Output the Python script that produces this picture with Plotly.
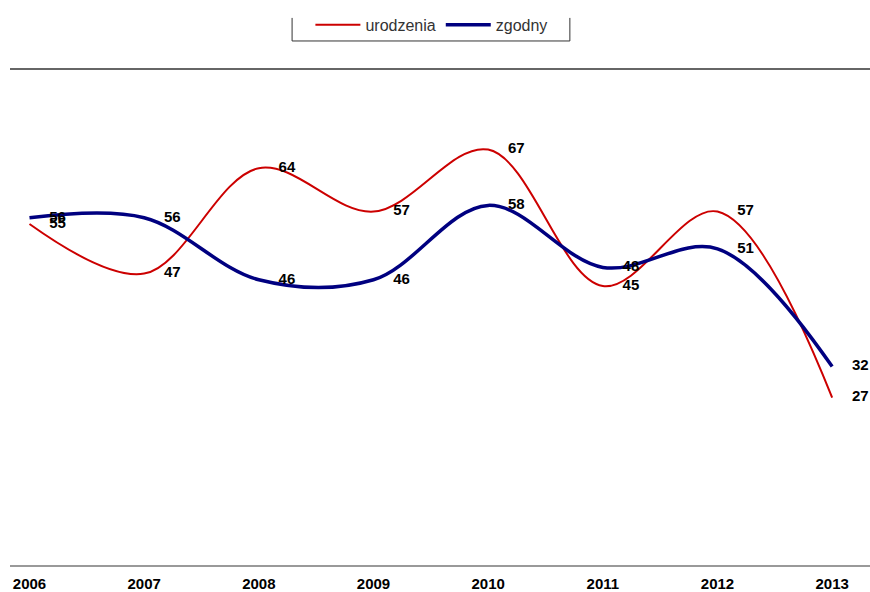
import plotly.graph_objects as go

years = ["2006", "2007", "2008", "2009", "2010", "2011", "2012", "2013"]
urodzenia = [55, 47, 64, 57, 67, 45, 57, 27]
zgodny = [56, 56, 46, 46, 58, 48, 51, 32]

RED = "#CC0000"
BLUE = "#000080"
FONT = "Liberation Sans, Arial, sans-serif"

fig = go.Figure()

fig.add_trace(go.Scatter(
    x=years, y=urodzenia, name="urodzenia", mode="lines",
    line=dict(color=RED, width=2, shape="spline", smoothing=1),
))
fig.add_trace(go.Scatter(
    x=years, y=zgodny, name="zgodny", mode="lines",
    line=dict(color=BLUE, width=3.5, shape="spline", smoothing=1),
))

# etykiety wartości po prawej stronie punktów
for series in (urodzenia, zgodny):
    fig.add_trace(go.Scatter(
        x=years, y=series, mode="markers+text", showlegend=False,
        text=[str(v) for v in series], textposition="middle right",
        marker=dict(size=30, opacity=0), cliponaxis=False, hoverinfo="skip",
        textfont=dict(family=FONT, size=15, color="black", weight="bold"),
    ))

# górna linia ramki
fig.add_shape(type="line", xref="paper", yref="paper", x0=0, x1=1, y0=1, y1=1,
              line=dict(color="#666666", width=2))
# ramka legendy (ucięta u góry)
fig.add_shape(type="path", xref="paper", yref="paper",
              path="M 0.328,1.103 L 0.328,1.0565 L 0.651,1.0565 L 0.651,1.103",
              line=dict(color="#333333", width=1))

fig.update_layout(
    width=870, height=592,
    margin=dict(l=10, r=0, t=69, b=27),
    plot_bgcolor="white", paper_bgcolor="white",
    font=dict(family=FONT, size=14, color="black"),
    showlegend=True,
    legend=dict(
        orientation="h", x=0.49, xanchor="center", y=1.089, yanchor="middle",
        font=dict(family=FONT, size=16, color="#333333"),
        bgcolor="rgba(0,0,0,0)", itemwidth=45,
    ),
)

fig.update_xaxes(
    type="category", range=[-0.17, 7.33], automargin=False,
    showgrid=False, zeroline=False,
    showline=True, linecolor="#999999", linewidth=1.5,
    ticks="", ticklen=0, ticklabelstandoff=4,
    tickfont=dict(family=FONT, size=15, color="black", weight="bold"),
)
fig.update_yaxes(range=[0, 80], visible=False, showgrid=False, zeroline=False)

fig.write_html(
    "out.html",
    config={"displayModeBar": False},
    post_script="document.body.style.margin='0';document.body.style.overflow='hidden';",
)
